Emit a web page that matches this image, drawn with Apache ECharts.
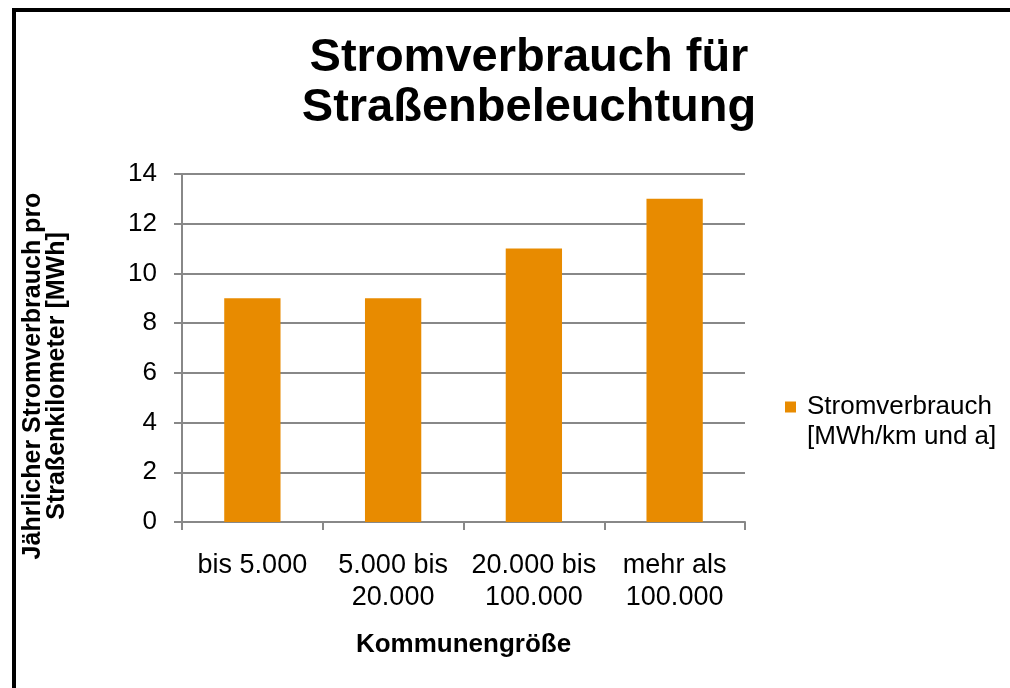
<!DOCTYPE html>
<html>
<head>
<meta charset="utf-8">
<script src="https://cdn.jsdelivr.net/npm/echarts@6/dist/echarts.min.js"></script>
<style>
  html, body { margin: 0; padding: 0; background: #fff; }
  #chart { width: 1010px; height: 688px; }
  #frame {
    position: absolute; left: 12px; top: 8px; width: 1200px; height: 900px;
    border-top: 4px solid #000; border-left: 4px solid #000; pointer-events: none;
  }
</style>
</head>
<body>
<div id="chart"></div>
<div id="frame"></div>
<script>
// Kategorien (Kommunengröße)
var categories = ['bis 5.000', '5.000 bis\n20.000', '20.000 bis\n100.000', 'mehr als\n100.000']
// Stromverbrauch [MWh/km und a]
var verbrauch = [9, 9, 11, 13]
var yTicks = { min: 0, max: 14, interval: 2 }
var seriesName = 'Stromverbrauch [MWh/km und a]'

var font = '"Liberation Sans", Arial, sans-serif'
var axisGray = '#888888'

var myChart = echarts.init(document.getElementById('chart'))
var option = {
  backgroundColor: '#fff',
  animation: false,
  textStyle: { fontFamily: font },
  title: {
    text: 'Stromverbrauch für\nStraßenbeleuchtung',
    left: 524,
    textAlign: 'center',
    top: 28,
    textStyle: { fontSize: 47, fontWeight: 'bold', color: '#000', lineHeight: 50, fontFamily: font }
  },
  legend: {
    left: 785,
    top: 358,
    padding: 0,
    itemWidth: 11,
    itemHeight: 11,
    icon: 'rect',
    data: [seriesName],
    // leere erste Zeile, damit das Symbol neben der ersten Textzeile steht
    formatter: function (name) {
      return ' \nStromverbrauch\n[MWh/km und a]'
    },
    textStyle: { fontSize: 26, color: '#000', lineHeight: 30, padding: [8, 0, 0, 6], fontFamily: font }
  },
  grid: { left: 182, right: 265, top: 174, bottom: 166, outerBoundsMode: 'none' },
  xAxis: {
    type: 'category',
    data: categories,
    name: 'Kommunengröße',
    nameLocation: 'middle',
    nameGap: 110,
    nameTextStyle: { fontSize: 26, fontWeight: 'bold', color: '#000', fontFamily: font },
    axisLine: { lineStyle: { color: axisGray, width: 2 } },
    axisTick: { show: true, length: 8, lineStyle: { color: axisGray, width: 2 } },
    axisLabel: { fontSize: 27, color: '#000', lineHeight: 32, margin: 28, interval: 0, fontFamily: font }
  },
  yAxis: {
    type: 'value',
    min: yTicks.min,
    max: yTicks.max,
    interval: yTicks.interval,
    name: 'Jährlicher Stromverbrauch pro\nStraßenkilometer [MWh]',
    nameLocation: 'middle',
    nameRotate: 90,
    nameGap: 113,
    nameTextStyle: { fontSize: 25, fontWeight: 'bold', color: '#000', lineHeight: 24, padding: [0, 56, 0, 0], fontFamily: font },
    axisLine: { show: true, lineStyle: { color: axisGray, width: 2 } },
    axisTick: { show: true, length: 8, lineStyle: { color: axisGray, width: 2 } },
    axisLabel: { fontSize: 26, color: '#000', margin: 25, fontFamily: font },
    splitLine: { lineStyle: { color: axisGray, width: 2 } }
  },
  series: [{
    name: seriesName,
    type: 'bar',
    data: verbrauch,
    barWidth: '40%',
    itemStyle: { color: '#e88b00' }
  }]
}
myChart.setOption(option)
</script>
</body>
</html>
